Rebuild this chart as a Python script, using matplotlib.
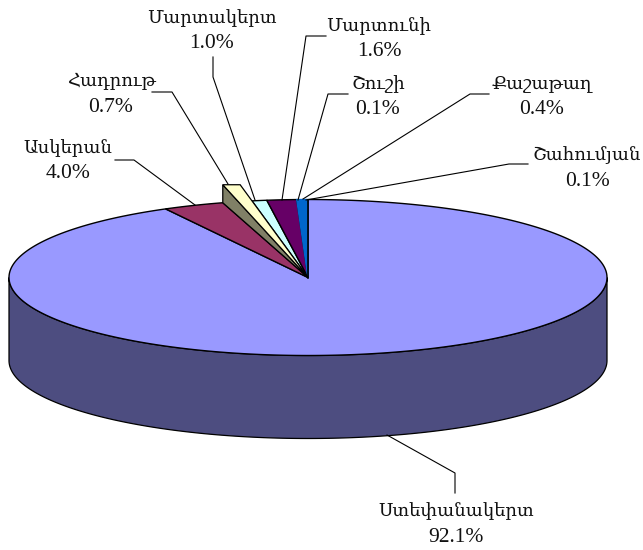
import numpy as np
import matplotlib
matplotlib.use("Agg")
import matplotlib.pyplot as plt

plt.rcParams['font.family'] = ['Liberation Serif', 'DejaVu Serif']

# values and names, clockwise from 12 o'clock going round the long way
names = ["Ստեփանակերտ", "Ասկերան", "Հադրութ", "Մարտակերտ", "Մարտունի", "Շուշի", "Քաշաթաղ", "Շահումյան"]
shares = [92.1, 4.0, 0.7, 1.0, 1.6, 0.1, 0.4, 0.1]
colors = ["#9999FF", "#993366", "#FFFFCC", "#CCFFFF", "#660066", "#0066CC", "#0066CC", "#0066CC"]

# pie geometry, pixels
CX, CY = 308, 277.5
RX, RY = 299, 78
DEPTH = 83
SIDE = "#4D4D80"
HADRUT_SIDE = "#808066"
# the Hadrut slice sticks up out of the pie and looks wider than its share
HADRUT_PAD = (0.7, 0.2)
LIFT = 18

# label centre and leader line, pixels
label_pos = [(456, 524), (68, 161), (111, 95), (212, 31), (379, 39), (378, 97), (542, 97), (587, 168)]
leaders = [
    [(455, 493), (455, 473), (387, 435)],
    [(115, 160), (134, 160), (195, 205)],
    [(152, 92), (172, 92), (228, 184)],
    [(213, 57), (213, 77), (255, 200)],
    [(326, 36), (306, 36), (282, 200)],
    [(348, 94), (328, 94), (298, 200)],
    [(489, 94), (470, 94), (303, 199)],
    [(528, 164), (509, 164), (306, 200)],
]


def rim(pct):
    # pct is cumulative percent; 0 is the top, rising pct runs to the right first
    a = np.asarray(pct) * 2 * np.pi / 100
    return CX + RX * np.sin(a), CY - RY * np.cos(a)


fig = plt.figure(figsize=(6.43, 5.5), dpi=100)
ax = fig.add_axes([0, 0, 1, 1])
ax.set_xlim(0, 643)
ax.set_ylim(550, 0)
ax.axis("off")

# side wall
t = np.linspace(0, np.pi, 200)
xs = CX + RX * np.cos(t)
ys = CY + RY * np.sin(t)
ax.fill(np.r_[xs, xs[::-1]], np.r_[ys, ys[::-1] + DEPTH], fc=SIDE, ec="black", lw=0.9, zorder=1)

# top face
edges = np.cumsum([0] + shares)
h = names.index("Հադրութ")
lo = edges[:-1].copy()
hi = edges[1:].copy()
hi[h - 1] -= HADRUT_PAD[0]
lo[h] -= HADRUT_PAD[0]
hi[h] += HADRUT_PAD[1]
lo[h + 1] += HADRUT_PAD[1]
for i in range(len(shares)):
    if i == h:
        continue
    p = np.linspace(lo[i], hi[i], max(int(shares[i] * 8), 2))
    x, y = rim(p)
    ec = "black" if i < 5 else colors[i]
    ax.fill(np.r_[CX, x], np.r_[CY, y], fc=colors[i], ec=ec, lw=1.0, joinstyle="miter", zorder=2 + i * 0.01)

# lifted Hadrut slice: a dark side and a pale top
x0, y0 = rim(lo[h])
x1, y1 = rim(hi[h])
top_y = y0 - LIFT
k = (CY - top_y) / (CY - y1)
x2 = CX + k * (x1 - CX)
ax.fill([CX, x0, x0], [CY, y0, top_y], fc=HADRUT_SIDE, ec="black", lw=0.9, joinstyle="miter", zorder=3)
ax.fill([CX, x0, x2], [CY, top_y, top_y], fc=colors[h], ec="black", lw=0.9, joinstyle="miter", zorder=3.1)

# blue sliver closes on the top radius
ax.plot([CX, CX], [CY, CY - RY], color="black", lw=1.2, zorder=4)

for name, share, (lx, ly), pts in zip(names, shares, label_pos, leaders):
    ax.plot([q[0] for q in pts], [q[1] for q in pts], color="black", lw=0.8, zorder=5)
    ax.text(lx, ly - 13, name, ha="center", va="center", fontsize=13, color="#111111", zorder=6)
    ax.text(lx, ly + 13, f"{share:.1f}%", ha="center", va="center", fontsize=15.5, color="#111111", zorder=6)

fig.savefig("out.png", dpi=100)
